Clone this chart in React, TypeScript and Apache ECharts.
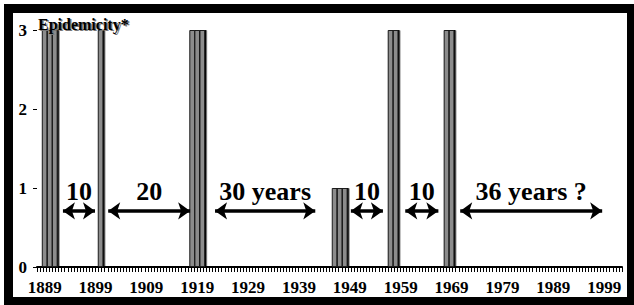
import React, { useEffect, useRef } from "react";
import * as echarts from "echarts";

const years = [1889, 1890, 1891, 1900, 1918, 1919, 1920, 1946, 1947, 1948, 1957, 1958, 1968, 1969];
const epidemicity = [3, 3, 3, 3, 3, 3, 3, 1, 1, 1, 3, 3, 3, 3];
const decadeLabels = [1889, 1899, 1909, 1919, 1929, 1939, 1949, 1959, 1969, 1979, 1989, 1999];
const gapLabels = ["10", "20", "30 years", "10", "10", "36 years ?"];
const gapStarts = [1892.6, 1901.5, 1922.5, 1949.2, 1959.9, 1970.7];
const gapEnds = [1898.9, 1917.6, 1942.2, 1955.5, 1966.4, 1998.6];
const arrowLevel = 0.71;
const yTitle = "Epidemicity*";
const xMin = 1887.5;
const xMax = 2002.5;
const minorTickCount = 190;

const serif = "Liberation Serif";

export default function App() {
  const ref = useRef<HTMLDivElement>(null);
  useEffect(() => {
    if (!ref.current) return;
    const chart = echarts.init(ref.current, undefined, { renderer: "svg" });
    const tickValues: number[] = [];
    for (let i = 0; i <= minorTickCount; i++) tickValues.push(xMin + ((xMax - xMin) * i) / minorTickCount);
    chart.setOption({
      animation: false,
      grid: { left: 37, right: 12, top: 30, bottom: 38 },
      graphic: [
        {
          type: "text",
          z: 100,
          x: 39.5,
          y: 25.5,
          style: { text: yTitle, fill: "#777", fontFamily: serif, fontWeight: "bold", fontSize: 16, verticalAlign: "middle" },
        },
        {
          type: "text",
          z: 101,
          x: 38,
          y: 24,
          style: { text: yTitle, fill: "#000", fontFamily: serif, fontWeight: "bold", fontSize: 16, verticalAlign: "middle" },
        },
      ],
      xAxis: {
        type: "value",
        min: xMin,
        max: xMax,
        axisLine: { show: true, lineStyle: { color: "#000", width: 2 } },
        axisTick: { show: true, customValues: tickValues, length: 5, lineStyle: { color: "#000", width: 1 } },
        splitLine: { show: false },
        axisLabel: {
          customValues: decadeLabels,
          formatter: (v: number) => String(v),
          margin: 12,
          color: "#000",
          fontFamily: serif,
          fontWeight: "bold",
          fontSize: 17,
        },
      },
      yAxis: {
        type: "value",
        min: 0,
        max: 3,
        interval: 1,
        axisLine: { show: false },
        axisTick: { show: true, length: 4, lineStyle: { color: "#000" } },
        splitLine: { show: false },
        axisLabel: { margin: 10, color: "#000", fontFamily: serif, fontWeight: "bold", fontSize: 17 },
      },
      series: [
        {
          type: "bar",
          barWidth: 5.7,
          data: years.map((y, i) => [y, epidemicity[i]]),
          itemStyle: {
            color: "#8c8c8c",
            borderColor: "#1a1a1a",
            borderWidth: 1,
            shadowColor: "#000",
            shadowOffsetX: 1.5,
            shadowBlur: 0,
          },
        },
        {
          type: "line",
          data: [],
          markLine: {
            silent: true,
            symbol: ["arrow", "arrow"],
            symbolSize: [13, 12],
            lineStyle: { color: "#000", width: 3.5, type: "solid" },
            label: {
              show: true,
              position: "insideMiddleTop",
              distance: 6,
              formatter: (p: any) => p.name,
              color: "#000",
              fontFamily: serif,
              fontWeight: "bold",
              fontSize: 26,
            },
            data: gapLabels.map((name, i) => [
              { coord: [gapStarts[i], arrowLevel], name },
              { coord: [gapEnds[i], arrowLevel] },
            ]),
          },
        },
      ],
    });
    return () => chart.dispose();
  }, []);
  return (
    <div style={{ position: "fixed", left: 0, top: 0, width: 634, height: 305, background: "#fff" }}>
      <div style={{ position: "absolute", left: 4, top: 4, width: 630, height: 301, background: "#000" }} />
      <div style={{ position: "absolute", left: 13, top: 13, width: 614, height: 284, background: "#fff" }} />
      <div ref={ref} style={{ position: "absolute", left: 0, top: 0, width: 634, height: 305 }} />
    </div>
  );
}
